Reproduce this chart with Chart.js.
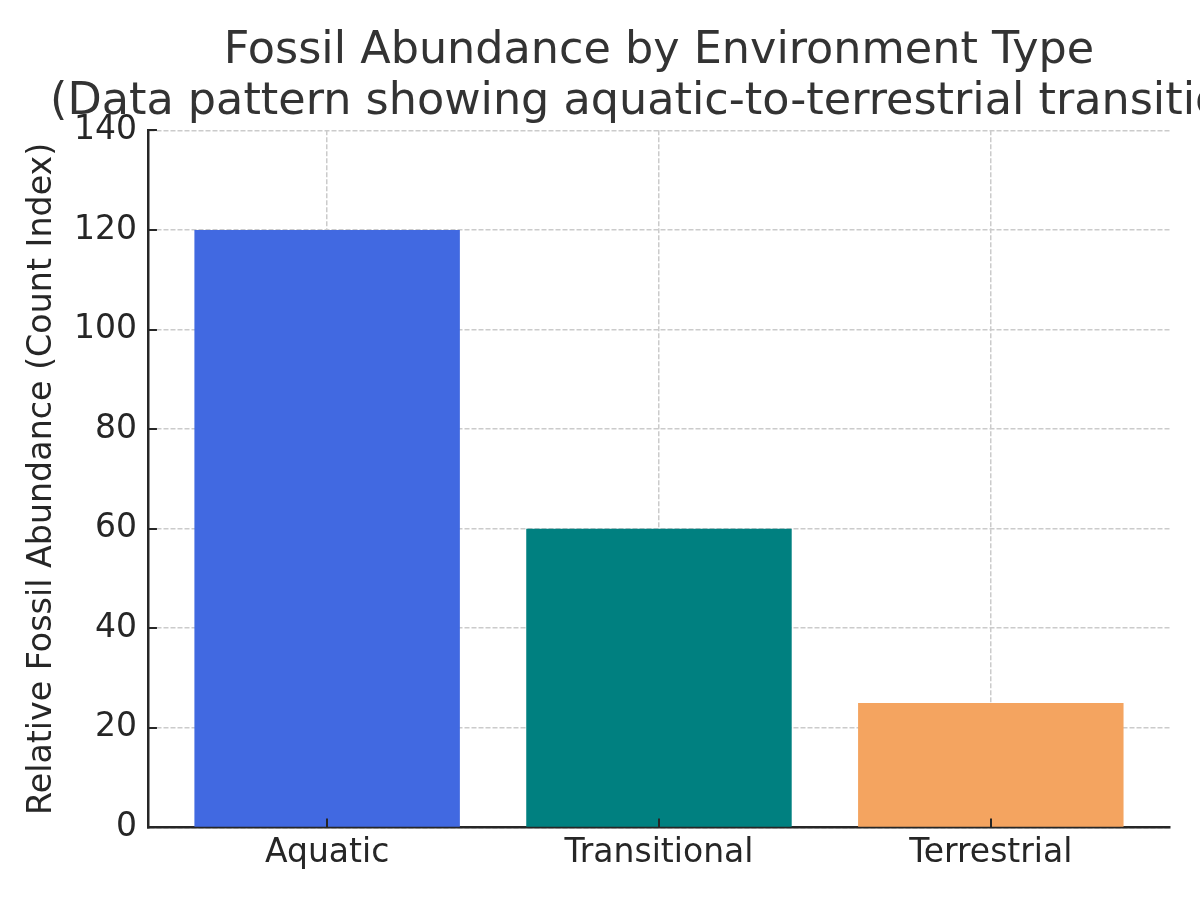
<!DOCTYPE html>
<html>
<head>
<meta charset="utf-8">
<script src="https://cdn.jsdelivr.net/npm/chart.js@4.4.1/dist/chart.umd.min.js"></script>
<style>
    html, body { margin: 0; padding: 0; background: #ffffff; overflow: hidden; }
    #wrap { position: absolute; left: 0; top: 0; width: 1318px; height: 900px; }
</style>
</head>
<body>
<div id="wrap"><canvas id="chart" width="1318" height="900"></canvas></div>
<script>
const categories = ['Aquatic', 'Transitional', 'Terrestrial'];
const abundance = [120, 60, 25];
const barColors = ['#4169E1', '#008080', '#F4A460'];
const titleLines = ['Fossil Abundance by Environment Type', '(Data pattern showing aquatic-to-terrestrial transition)'];
const yAxisTitle = 'Relative Fossil Abundance (Count Index)';

const FONT = "'DejaVu Sans', sans-serif";
const AXIS_COLOR = '#262626';
const GRID_COLOR = '#cbcbcb';

// title stays centred over the plot but is not squeezed to its width
const wideTitle = {
    id: 'wideTitle',
    afterLayout(chart) {
        const t = chart.titleBlock;
        const mid = (t.left + t.right) / 2;
        t.left = mid - 800;
        t.right = mid + 800;
    }
};

// matplotlib style inward tick marks
const inwardTicks = {
    id: 'inwardTicks',
    afterDraw(chart) {
        const ctx = chart.ctx;
        const area = chart.chartArea;
        const xScale = chart.scales.x;
        const yScale = chart.scales.y;
        ctx.save();
        ctx.strokeStyle = AXIS_COLOR;
        ctx.lineWidth = 2;
        yScale.ticks.forEach((t) => {
            const py = Math.round(yScale.getPixelForValue(t.value));
            ctx.beginPath();
            ctx.moveTo(area.left, py);
            ctx.lineTo(area.left + 9, py);
            ctx.stroke();
        });
        xScale.ticks.forEach((t) => {
            const px = Math.round(xScale.getPixelForValue(t.value));
            ctx.beginPath();
            ctx.moveTo(px, area.bottom);
            ctx.lineTo(px, area.bottom - 9);
            ctx.stroke();
        });
        ctx.restore();
    }
};

new Chart(document.getElementById('chart'), {
    type: 'bar',
    data: {
        datasets: [{
            data: abundance.map((v, i) => ({x: i, y: v})),
            backgroundColor: barColors,
            borderWidth: 0,
            categoryPercentage: 1,
            barPercentage: 0.8
        }]
    },
    options: {
        responsive: false,
        animation: false,
        devicePixelRatio: 1,
        layout: {padding: {left: 22, right: 148, top: 0, bottom: 21}},
        plugins: {
            legend: {display: false},
            tooltip: {enabled: false},
            title: {
                display: true,
                fullSize: false,
                text: titleLines,
                color: '#333333',
                font: {family: FONT, size: 44.5, weight: 'normal', lineHeight: 1.15},
                padding: {top: 26, bottom: 2}
            }
        },
        scales: {
            x: {
                type: 'linear',
                min: -0.54,
                max: 2.54,
                offset: false,
                z: 1,
                afterBuildTicks: (axis) => {
                    axis.ticks = axis.ticks.filter(t => Number.isInteger(t.value));
                },
                ticks: {
                    stepSize: 1,
                    autoSkip: false,
                    maxRotation: 0,
                    padding: 6,
                    color: AXIS_COLOR,
                    font: {family: FONT, size: 33},
                    callback: (v) => categories[v] ?? ''
                },
                grid: {color: GRID_COLOR, lineWidth: 1.5, drawTicks: false, offset: false},
                border: {display: true, color: AXIS_COLOR, width: 2.5, dash: [5, 2]}
            },
            y: {
                min: 0,
                max: 140,
                z: 1,
                ticks: {
                    stepSize: 20,
                    padding: 11,
                    color: AXIS_COLOR,
                    font: {family: FONT, size: 33}
                },
                grid: {color: GRID_COLOR, lineWidth: 1.5, drawTicks: false},
                border: {display: true, color: AXIS_COLOR, width: 2.5, dash: [5, 2]},
                title: {
                    display: true,
                    text: yAxisTitle,
                    color: AXIS_COLOR,
                    font: {family: FONT, size: 33.3},
                    padding: {top: 0, bottom: 1}
                }
            }
        }
    },
    plugins: [wideTitle, inwardTicks]
});
</script>
</body>
</html>
